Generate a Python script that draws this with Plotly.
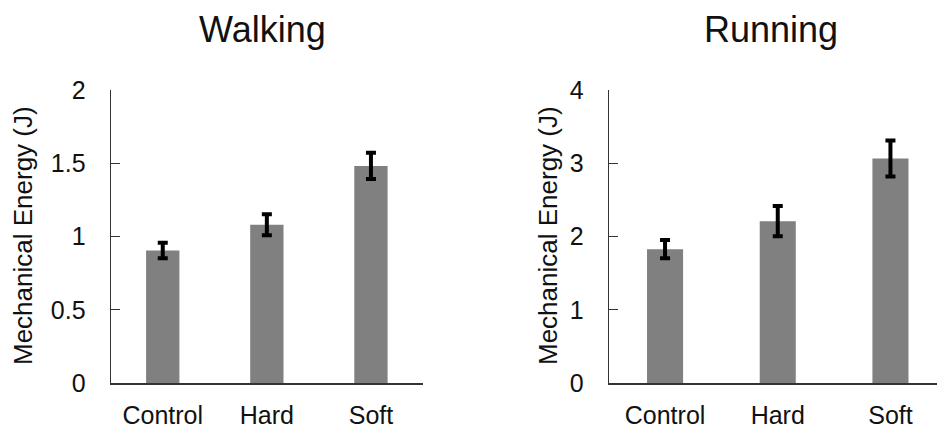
import plotly.graph_objects as go

categories = ["Control", "Hard", "Soft"]
walking_values = [0.905, 1.08, 1.482]
walking_errors = [0.053, 0.072, 0.09]
running_values = [1.827, 2.209, 3.064]
running_errors = [0.125, 0.207, 0.245]
walking_ticks = [0, 0.5, 1, 1.5, 2]
running_ticks = [0, 1, 2, 3, 4]

W, H = 937, 428
FONT = "Liberation Sans, Arial, sans-serif"
BAR = "#808080"
AX = "#333333"

fig = go.Figure()
fig.add_trace(go.Bar(x=categories, y=walking_values, xaxis="x", yaxis="y",
                     marker=dict(color=BAR, line=dict(width=0)), width=0.32,
                     error_y=dict(type="data", array=walking_errors, visible=True,
                                  color="black", thickness=4, width=5),
                     showlegend=False))
fig.add_trace(go.Bar(x=categories, y=running_values, xaxis="x2", yaxis="y2",
                     marker=dict(color=BAR, line=dict(width=0)), width=0.32,
                     error_y=dict(type="data", array=running_errors, visible=True,
                                  color="black", thickness=4, width=5),
                     showlegend=False))

def px_x(p):
    return p / W

def px_y(p):
    return 1 - p / H

ydom = [px_y(383), px_y(90)]
xaxis_common = dict(showline=True, linecolor=AX, linewidth=1.5, ticks="",
                    showgrid=False, zeroline=False, automargin=False,
                    ticklabelstandoff=9,
                    tickfont=dict(family=FONT, size=25, color="#111111"))
yaxis_common = dict(showline=True, linecolor=AX, linewidth=1.3, ticks="inside",
                    ticklen=9, tickcolor=AX, tickwidth=1.3, showgrid=False,
                    zeroline=False, ticklabelstandoff=19, automargin=False,
                    tickfont=dict(family=FONT, size=25, color="#111111"))

fig.update_layout(
    width=W, height=H, autosize=False,
    margin=dict(l=0, r=0, t=0, b=0, pad=0),
    paper_bgcolor="white", plot_bgcolor="white",
    xaxis=dict(domain=[px_x(110.7), px_x(423)], anchor="y",
               range=[-0.5, 2.5], **xaxis_common),
    yaxis=dict(domain=ydom, anchor="x", range=[0, 2],
               tickvals=walking_ticks, **yaxis_common),
    xaxis2=dict(domain=[px_x(608.7), 1.0], anchor="y2",
                range=[-0.5, 2.413], **xaxis_common),
    yaxis2=dict(domain=ydom, anchor="x2", range=[0, 4],
                tickvals=running_ticks, **yaxis_common),
    annotations=[
        dict(text="Walking", x=px_x(262), y=px_y(29), xref="paper", yref="paper",
             showarrow=False, xanchor="center", yanchor="middle",
             font=dict(family=FONT, size=36, color="#111111")),
        dict(text="Running", x=px_x(771), y=px_y(29), xref="paper", yref="paper",
             showarrow=False, xanchor="center", yanchor="middle",
             font=dict(family=FONT, size=36, color="#111111")),
        dict(text="Mechanical Energy (J)", x=px_x(23), y=px_y(236), xref="paper",
             yref="paper", showarrow=False, xanchor="center", yanchor="middle",
             textangle=-90, font=dict(family=FONT, size=26, color="#111111")),
        dict(text="Mechanical Energy (J)", x=px_x(548), y=px_y(236), xref="paper",
             yref="paper", showarrow=False, xanchor="center", yanchor="middle",
             textangle=-90, font=dict(family=FONT, size=26, color="#111111")),
    ],
)

fig.write_html("out.html", config={"displayModeBar": False},
               post_script="document.body.style.margin='0';document.body.style.overflow='hidden';")
